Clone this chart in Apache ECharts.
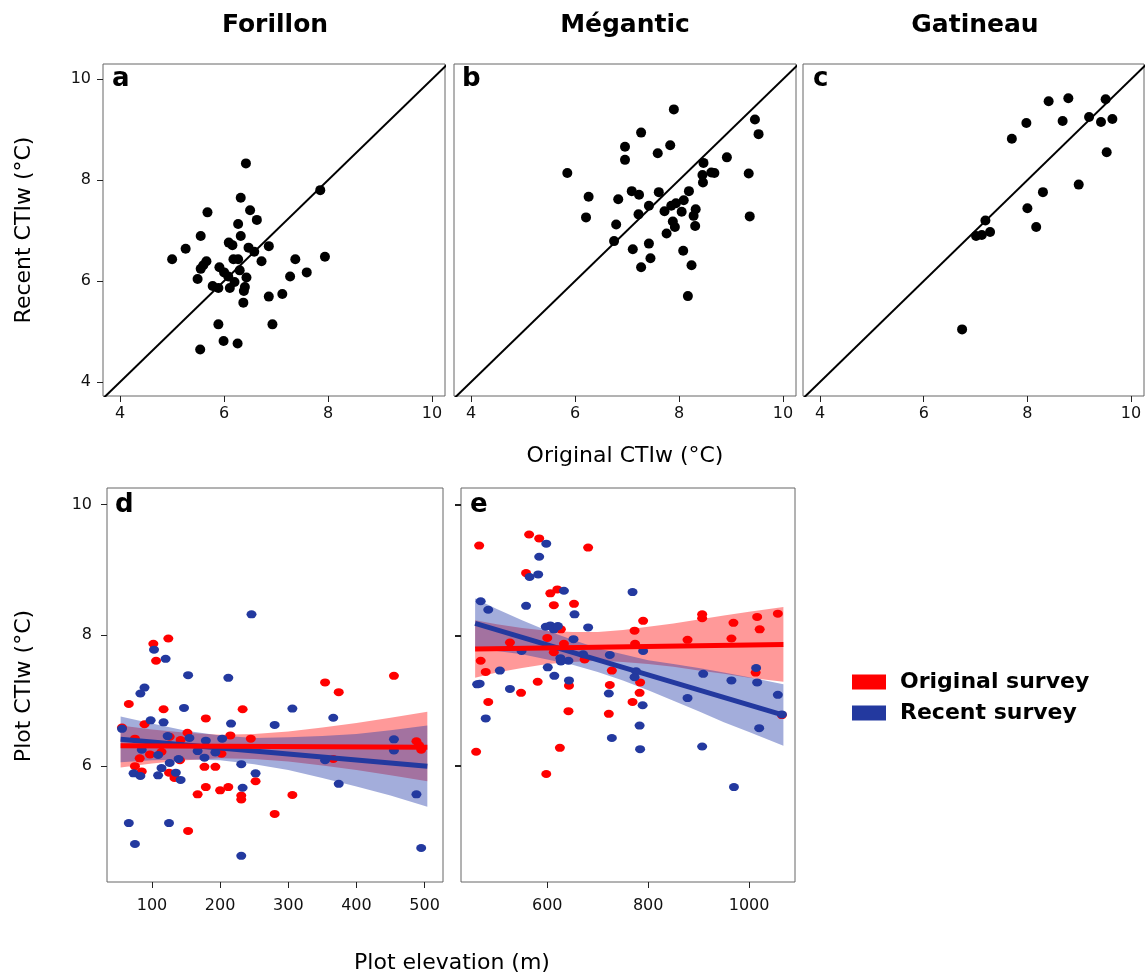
<!DOCTYPE html>
<html>
<head>
<meta charset="utf-8">
<script src="https://cdn.jsdelivr.net/npm/echarts@6/dist/echarts.min.js"></script>
<style>
  body { margin: 0; background: #fff; }
  #chart { width: 1145px; height: 976px; }
</style>
</head>
<body>
<div id="chart"></div>
<script>
// tick labels
const ctiTicks = [4, 6, 8, 10]
const plotCtiTicks = [6, 8, 10]
const forillonElevTicks = [100, 200, 300, 400, 500]
const meganticElevTicks = [600, 800, 1000]
const diag = [3.5, 10.5]

// original vs recent CTIw, one point per plot
const forillonCTI = [[6.42,8.33],[7.85,7.80],[6.32,7.65],[6.50,7.40],[6.63,7.21],[5.68,7.36],[6.27,7.13],[5.55,6.89],[6.32,6.89],[6.09,6.76],[6.16,6.71],[5.26,6.64],[6.47,6.66],[6.58,6.58],[6.86,6.69],[5.00,6.43],[5.66,6.39],[5.60,6.31],[5.55,6.24],[6.18,6.43],[6.27,6.43],[6.72,6.39],[7.37,6.43],[7.94,6.48],[5.91,6.27],[6.00,6.17],[6.30,6.21],[6.43,6.07],[7.59,6.17],[7.27,6.09],[5.49,6.04],[6.20,5.98],[5.78,5.90],[5.89,5.86],[6.11,5.86],[6.40,5.88],[6.38,5.80],[6.37,5.57],[6.86,5.69],[7.12,5.74],[5.89,5.14],[6.93,5.14],[5.99,4.81],[6.26,4.76],[5.54,4.64],[6.08,6.09]]
const meganticCTI = [[7.90,9.40],[9.46,9.20],[9.53,8.91],[7.27,8.94],[6.96,8.66],[7.83,8.69],[6.96,8.40],[7.59,8.53],[5.85,8.14],[8.92,8.45],[8.47,8.34],[8.45,8.10],[8.62,8.15],[8.68,8.14],[9.34,8.13],[8.46,7.95],[6.26,7.67],[7.09,7.78],[7.23,7.71],[7.61,7.76],[8.19,7.78],[6.83,7.62],[8.09,7.60],[7.42,7.49],[7.85,7.49],[7.94,7.54],[7.72,7.38],[8.05,7.37],[8.32,7.42],[8.28,7.29],[7.22,7.32],[6.21,7.26],[9.36,7.28],[7.88,7.18],[7.92,7.07],[8.31,7.09],[6.79,7.12],[7.76,6.94],[6.75,6.79],[7.42,6.74],[7.11,6.63],[8.08,6.60],[7.45,6.45],[7.27,6.27],[8.24,6.31],[8.17,5.70]]
const gatineauCTI = [[6.74,5.04],[7.19,7.20],[7.01,6.89],[7.12,6.91],[7.28,6.97],[7.70,8.82],[7.98,9.13],[8.41,9.56],[8.79,9.62],[8.68,9.17],[9.19,9.25],[9.51,9.60],[9.42,9.15],[9.64,9.21],[9.53,8.55],[8.99,7.91],[8.30,7.76],[8.00,7.44],[8.17,7.07]]

// elevation vs CTIw
const forillonElevOrig = [[102,7.87],[124,7.95],[106,7.61],[66,6.95],[56,6.59],[89,6.64],[117,6.87],[152,6.51],[126,6.45],[142,6.40],[75,6.42],[97,6.18],[114,6.22],[82,6.12],[75,6.00],[85,5.92],[125,5.90],[133,5.82],[141,6.09],[179,6.73],[233,6.87],[215,6.47],[202,6.19],[245,6.42],[177,5.99],[193,5.99],[179,5.68],[167,5.57],[200,5.63],[212,5.68],[231,5.55],[231,5.49],[252,5.77],[280,5.27],[306,5.56],[153,5.01],[354,7.28],[374,7.13],[455,7.38],[366,6.11],[488,6.38],[495,6.25],[492,6.32]]
const forillonElevRecent = [[246,8.32],[103,7.78],[120,7.64],[153,7.39],[212,7.35],[89,7.20],[83,7.11],[147,6.89],[306,6.88],[98,6.70],[117,6.67],[216,6.65],[280,6.63],[366,6.74],[56,6.57],[123,6.46],[155,6.43],[203,6.42],[179,6.39],[85,6.25],[167,6.23],[193,6.21],[109,6.17],[177,6.13],[139,6.11],[126,6.05],[114,5.97],[231,6.03],[73,5.89],[83,5.85],[109,5.86],[135,5.90],[142,5.79],[252,5.89],[233,5.67],[374,5.73],[354,6.09],[455,6.41],[455,6.24],[488,5.57],[66,5.13],[125,5.13],[75,4.81],[231,4.63],[495,4.75]]
const meganticElevOrig = [[564,9.54],[584,9.48],[465,9.37],[681,9.34],[558,8.95],[606,8.64],[620,8.70],[613,8.46],[653,8.48],[627,8.09],[600,7.96],[526,7.89],[633,7.87],[790,8.22],[773,8.07],[774,7.87],[878,7.93],[907,8.32],[907,8.26],[969,8.19],[965,7.95],[1016,8.28],[1021,8.09],[1057,8.33],[468,7.61],[478,7.44],[613,7.74],[674,7.63],[728,7.46],[581,7.29],[643,7.23],[548,7.12],[483,6.98],[724,7.24],[784,7.28],[783,7.12],[769,6.98],[1013,7.43],[642,6.84],[722,6.80],[625,6.28],[459,6.22],[598,5.88],[1065,6.78]]
const meganticElevRecent = [[598,9.40],[584,9.20],[565,8.89],[582,8.93],[633,8.68],[769,8.66],[468,8.52],[483,8.39],[558,8.45],[654,8.32],[597,8.13],[606,8.15],[613,8.09],[621,8.14],[681,8.12],[652,7.94],[549,7.76],[671,7.71],[724,7.70],[626,7.65],[642,7.61],[627,7.60],[790,7.76],[601,7.51],[506,7.46],[614,7.38],[776,7.45],[773,7.36],[643,7.31],[461,7.25],[466,7.26],[909,7.41],[965,7.31],[1014,7.50],[1016,7.28],[1057,7.09],[526,7.18],[722,7.11],[878,7.04],[789,6.93],[1065,6.79],[478,6.73],[783,6.62],[1020,6.58],[728,6.43],[784,6.26],[907,6.30],[970,5.68]]

// fitted lines and confidence bands
const forillonFitX = [54, 504]
const forillonFitOrig = [6.31, 6.29]
const forillonFitRecent = [6.41, 6.00]
const forillonBandX = [54, 100, 150, 200, 250, 300, 350, 400, 450, 504]
const forillonOrigLo = [5.98, 6.04, 6.09, 6.12, 6.11, 6.07, 6.01, 5.94, 5.86, 5.77]
const forillonOrigHi = [6.62, 6.56, 6.51, 6.48, 6.49, 6.53, 6.59, 6.66, 6.74, 6.83]
const forillonRecentLo = [6.06, 6.09, 6.10, 6.09, 6.03, 5.94, 5.82, 5.69, 5.55, 5.38]
const forillonRecentHi = [6.76, 6.65, 6.54, 6.47, 6.43, 6.44, 6.46, 6.49, 6.55, 6.62]

const meganticFitX = [457, 1068]
const meganticFitOrig = [7.79, 7.86]
const meganticFitRecent = [8.18, 6.78]
const meganticBandX = [457, 500, 550, 600, 650, 700, 750, 800, 850, 900, 950, 1000, 1068]
const meganticOrigLo = [7.35, 7.43, 7.50, 7.56, 7.59, 7.61, 7.59, 7.56, 7.52, 7.46, 7.41, 7.35, 7.29]
const meganticOrigHi = [8.23, 8.17, 8.11, 8.07, 8.05, 8.05, 8.08, 8.13, 8.18, 8.24, 8.30, 8.36, 8.43]
const meganticRecentLo = [7.80, 7.76, 7.71, 7.63, 7.55, 7.44, 7.31, 7.16, 7.00, 6.84, 6.67, 6.52, 6.31]
const meganticRecentHi = [8.56, 8.40, 8.23, 8.07, 7.93, 7.80, 7.71, 7.62, 7.56, 7.50, 7.43, 7.36, 7.25]

const FONT = 'DejaVu Sans'
const RED = '#ff0000'
const BLUE = '#23399f'

function valueAxis (gridIndex, min, max, ticks, showLabel, margin, tickWidth) {
  return {
    type: 'value',
    gridIndex: gridIndex,
    min: min,
    max: max,
    splitLine: { show: false },
    axisLine: { show: false },
    axisTick: {
      show: true,
      customValues: ticks,
      length: 6,
      lineStyle: { color: '#222', width: tickWidth || 1 }
    },
    axisLabel: {
      show: showLabel,
      customValues: ticks,
      margin: margin,
      formatter: v => String(v),
      fontFamily: FONT,
      fontSize: 16,
      color: '#111'
    }
  }
}

function pointSeries (name, data, idx, color, size) {
  return {
    name: name,
    type: 'scatter',
    xAxisIndex: idx,
    yAxisIndex: idx,
    data: data,
    symbolSize: size,
    itemStyle: { color: color, opacity: 1 },
    silent: true
  }
}

function fitLine (xs, ys, idx, color, width) {
  return {
    type: 'line',
    xAxisIndex: idx,
    yAxisIndex: idx,
    data: xs.map((x, i) => [x, ys[i]]),
    symbol: 'none',
    lineStyle: { color: color, width: width || 5 },
    silent: true
  }
}

// one polygon for the whole band, corners through the axis scales
function band (xs, lo, hi, idx, fill) {
  return {
    type: 'custom',
    xAxisIndex: idx,
    yAxisIndex: idx,
    data: xs.map((x, i) => [x, lo[i], hi[i]]),
    encode: { x: 0, y: [1, 2] },
    silent: true,
    renderItem: function (params, api) {
      if (params.dataIndex !== 0) return null
      let pts = []
      for (let i = 0; i < xs.length; i++) pts.push(api.coord([xs[i], hi[i]]))
      for (let i = xs.length - 1; i >= 0; i--) pts.push(api.coord([xs[i], lo[i]]))
      return { type: 'polygon', shape: { points: pts }, style: { fill: fill } }
    }
  }
}

function label (text, x, y, size, bold, rotate, align) {
  return {
    type: 'text',
    x: x,
    y: y,
    rotation: rotate ? Math.PI / 2 : 0,
    style: {
      text: text,
      fontFamily: FONT,
      fontSize: size,
      fontWeight: bold ? 'bold' : 'normal',
      fill: '#000',
      align: align || 'center',
      verticalAlign: 'middle'
    }
  }
}

const gridBase = { show: true, borderColor: '#666', borderWidth: 1, backgroundColor: 'transparent' }

let option = {
  animation: false,
  backgroundColor: '#fff',
  grid: [
    Object.assign({ left: 103, top: 64, width: 342, height: 332 }, gridBase),
    Object.assign({ left: 454, top: 64, width: 342, height: 332 }, gridBase),
    Object.assign({ left: 803, top: 64, width: 341, height: 332 }, gridBase),
    Object.assign({ left: 107, top: 488, width: 336, height: 394 }, gridBase),
    Object.assign({ left: 461, top: 488, width: 334, height: 394 }, gridBase)
  ],
  xAxis: [
    valueAxis(0, 3.67, 10.25, ctiTicks, true, 10),
    valueAxis(1, 3.67, 10.25, ctiTicks, true, 10),
    valueAxis(2, 3.67, 10.25, ctiTicks, true, 10),
    valueAxis(3, 34, 527, forillonElevTicks, true, 16),
    valueAxis(4, 429, 1091, meganticElevTicks, true, 16)
  ],
  yAxis: [
    valueAxis(0, 3.72, 10.3, ctiTicks, true, 12),
    Object.assign(valueAxis(1, 3.72, 10.3, ctiTicks, false, 12), { axisTick: { show: false } }),
    Object.assign(valueAxis(2, 3.72, 10.3, ctiTicks, false, 12), { axisTick: { show: false } }),
    valueAxis(3, 4.23, 10.25, plotCtiTicks, true, 15),
    valueAxis(4, 4.23, 10.25, plotCtiTicks, false, 15, 2)
  ],
  legend: {
    data: ['Original survey', 'Recent survey'],
    orient: 'vertical',
    left: 852,
    top: 671,
    padding: 0,
    icon: 'rect',
    itemWidth: 34,
    itemHeight: 15,
    itemGap: 9,
    selectedMode: false,
    textStyle: { fontFamily: FONT, fontSize: 22, fontWeight: 'bold', color: '#000', padding: [0, 0, 0, 9], lineHeight: 22 }
  },
  series: [
    fitLine(diag, diag, 0, '#000', 2),
    fitLine(diag, diag, 1, '#000', 2),
    fitLine(diag, diag, 2, '#000', 2),
    pointSeries('Forillon', forillonCTI, 0, '#000', 10),
    pointSeries('Mégantic', meganticCTI, 1, '#000', 10),
    pointSeries('Gatineau', gatineauCTI, 2, '#000', 10),

    band(forillonBandX, forillonOrigLo, forillonOrigHi, 3, 'rgba(255,0,0,0.4)'),
    band(forillonBandX, forillonRecentLo, forillonRecentHi, 3, 'rgba(35,60,170,0.42)'),
    band(meganticBandX, meganticOrigLo, meganticOrigHi, 4, 'rgba(255,0,0,0.4)'),
    band(meganticBandX, meganticRecentLo, meganticRecentHi, 4, 'rgba(35,60,170,0.42)'),

    pointSeries('Original survey', forillonElevOrig, 3, RED, [10, 8]),
    pointSeries('Recent survey', forillonElevRecent, 3, BLUE, [10, 8]),
    pointSeries('Original survey', meganticElevOrig, 4, RED, [10, 8]),
    pointSeries('Recent survey', meganticElevRecent, 4, BLUE, [10, 8]),

    fitLine(forillonFitX, forillonFitRecent, 3, BLUE),
    fitLine(forillonFitX, forillonFitOrig, 3, RED),
    fitLine(meganticFitX, meganticFitRecent, 4, BLUE),
    fitLine(meganticFitX, meganticFitOrig, 4, RED)
  ],
  graphic: [
    label('Forillon', 275, 25, 25, true),
    label('Mégantic', 625, 25, 25, true),
    label('Gatineau', 975, 25, 25, true),
    label('a', 112, 79, 26, true, false, 'left'),
    label('b', 462, 79, 26, true, false, 'left'),
    label('c', 813, 79, 26, true, false, 'left'),
    label('d', 115, 505, 26, true, false, 'left'),
    label('e', 470, 505, 26, true, false, 'left'),
    label('Recent CTIw (°C)', 24, 230, 22, false, true),
    label('Original CTIw (°C)', 625, 456, 22, false),
    label('Plot CTIw (°C)', 24, 686, 22, false, true),
    label('Plot elevation (m)', 452, 963, 22, false)
  ]
}

let mychart = echarts.init(document.getElementById('chart'))
mychart.setOption(option)
</script>
</body>
</html>
